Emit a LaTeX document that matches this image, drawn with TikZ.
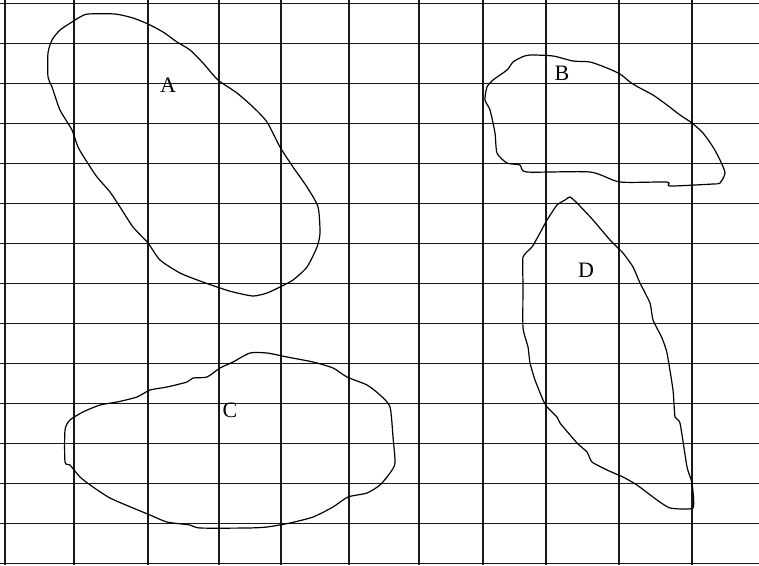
\documentclass[tikz,border=0pt]{standalone}
\usepackage{fontspec}
\setmainfont{Liberation Serif}
\usepackage{tikz}
\usetikzlibrary{positioning}
\usepackage{xcolor}
\definecolor{gridgray}{RGB}{25,25,25}
\definecolor{penblack}{RGB}{0,0,0}
\tikzstyle{gridline} = [line width=1.9pt,color=gridgray]
\tikzstyle{blob} = [line width=1.2pt,color=penblack,line join=round]
\tikzstyle{tag} = [font=\fontsize{22}{25}\selectfont,inner sep=0pt]

\begin{document}
\begin{tikzpicture}[x=1pt,y=-1pt]
\useasboundingbox (0,0) rectangle (759,565);
\fill[white] (0,0) rectangle (759,565);

% grid
\foreach \y in {0,...,14}
  \draw[gridline] (0,3.5+40*\y) -- (759,3.5+40*\y);
\foreach \x in {5,74,148,219,281,349,419,483,546,619,692}
  \draw[gridline] (\x,0) -- (\x,565);

% A
\draw[blob] plot[smooth cycle,tension=0.4] coordinates {
  (88,14) (115,14) (133,18) (148,24) (163,32) (177,42) (190,50) (203,63)
  (218,80) (237,93) (253,107) (267,122) (280,147) (293,167) (307,187)
  (318,207) (320,233) (317,247) (307,267) (293,280) (280,287) (267,293)
  (253,296) (233,292) (220,288) (200,281) (180,273) (160,260) (148,243)
  (133,227) (120,207) (110,192) (97,177) (87,162) (78,147) (72,130)
  (60,110) (52,87) (48,77) (48,53) (52,40) (60,30) (72,22) (80,17)};
\node[tag] (labelA) at (168,85) {A};

% B
\draw[blob] plot[smooth cycle,tension=0.4] coordinates {
  (530,55) (553,56) (573,61) (590,62) (607,68) (620,74) (630,82) (638,87)
  (653,95) (667,105) (680,115) (692,123) (703,133) (713,147) (720,160)
  (725,173) (720,183) (713,184) (670,186) (667,182) (620,182) (590,172)
  (527,172) (520,165) (507,163) (497,153) (495,133) (490,110) (485,100)
  (487,87) (493,80) (507,70) (513,62) (522,57)};
\node[tag] (labelB) at (562,73) {B};

% C
\draw[blob] plot[smooth cycle,tension=0.4] coordinates {
  (250,353) (267,353) (287,357) (313,362) (333,368) (347,377) (367,385)
  (380,395) (390,407) (393,437) (395,463) (390,473) (380,485) (367,493)
  (348,497) (333,507) (313,517) (290,523) (267,527) (247,528) (200,528)
  (190,525) (167,522) (150,515) (133,508) (110,498) (93,487) (80,477)
  (70,465) (65,462) (65,430) (70,420) (83,412) (100,405) (117,402)
  (137,397) (150,390) (167,387) (187,382) (193,378) (207,377) (220,368)
  (233,362)};
\node[tag] (labelC) at (230,410) {C};

% D
\draw[blob] plot[smooth cycle,tension=0.3] coordinates {
  (570,197) (577,203) (593,220) (610,240) (623,253) (633,267) (640,283)
  (650,303) (653,320) (662,338) (667,353) (673,390) (675,417) (680,423)
  (687,467) (692,483) (693,508) (670,508) (657,500) (637,485) (623,477)
  (607,470) (592,462) (587,452) (577,443) (560,423) (557,417) (547,407)
  (543,400) (535,380) (530,363) (528,347) (523,328) (523,285) (523,257)
  (532,247) (540,233) (547,220) (557,205) (565,200)};
\node[tag] (labelD) at (586,270) {D};
\end{tikzpicture}
\end{document}
